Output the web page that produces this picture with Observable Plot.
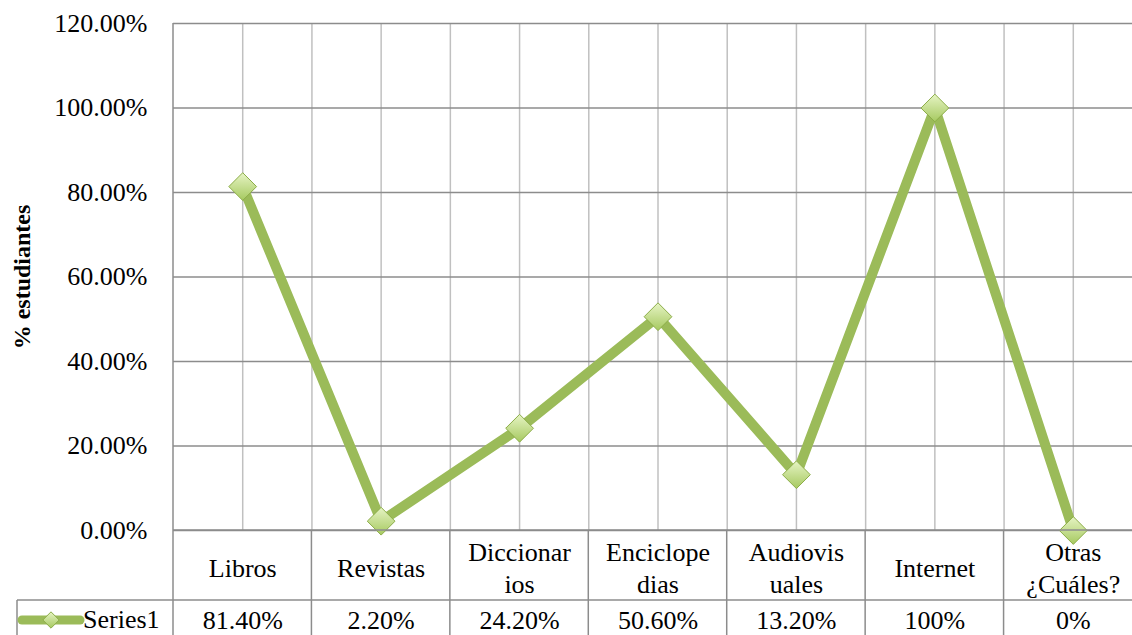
<!DOCTYPE html>
<html><head><meta charset="utf-8">
<script src="https://cdn.jsdelivr.net/npm/d3@7"></script>
<script src="https://cdn.jsdelivr.net/npm/@observablehq/plot@0.6"></script>
<style>html,body{margin:0;padding:0;overflow:hidden;background:#fff}</style>
</head><body><div id="chart"></div>
<script>
const categories = ["Libros","Revistas","Diccionarios","Enciclopedias","Audiovisuales","Internet","Otras ¿Cuáles?"];
const categoryLabels = ["Libros","Revistas","Diccionar\nios","Enciclope\ndias","Audiovis\nuales","Internet","Otras\n¿Cuáles?"];
const values = [0.814,0.022,0.242,0.506,0.132,1.0,0];
const valueLabels = ["81.40%","2.20%","24.20%","50.60%","13.20%","100%","0%"];
const yTicks = [0,0.2,0.4,0.6,0.8,1.0,1.2];
const seriesName = "Series1";
const yLabel = "% estudiantes";

const data = categories.map((c,i)=>({category:c, label:categoryLabels[i], value:values[i], valueLabel:valueLabels[i], pos:i+0.5}));
const centers = data.map(d=>d.pos);
const bounds = d3.range(1, categories.length);
const serif = "Liberation Serif";
const green = "#9bbb59";

const chart = Plot.plot({
  width:1132, height:635,
  marginTop:23, marginBottom:105, marginLeft:173, marginRight:0,
  style:{fontFamily:serif, fontSize:"26px", color:"#000", background:"#fff", overflow:"visible"},
  x:{domain:[0,categories.length], range:[173,1142], axis:null},
  y:{domain:[0,1.2], ticks:yTicks, tickFormat:d3.format(".2%")},
  marks:[
    Plot.ruleX([...centers, ...bounds], {stroke:"#c0c0c0", strokeWidth:1.5}),
    Plot.ruleY(yTicks, {stroke:"#8c8c8c", strokeWidth:1.5}),
    Plot.axisY({ticks:yTicks, tickFormat:d3.format(".2%"), tickSize:0, tickPadding:26, fontSize:26, fontFamily:serif, label:null}),
    Plot.text([yLabel], {frameAnchor:"left", textAnchor:"middle", lineAnchor:"middle", rotate:-90, dx:-151, fontFamily:serif, fontWeight:"bold", fontSize:24}),
    Plot.line(data, {x:"pos", y:"value", stroke:green, strokeWidth:10, strokeLinejoin:"round"}),
    Plot.dot(data, {x:"pos", y:"value", symbol:"diamond2", r:12.5, fill:"url(#mk)", stroke:"#8cad48", strokeWidth:1}),
    Plot.text(data, {x:"pos", text:"label", frameAnchor:"bottom", lineAnchor:"middle", dy:36, lineHeight:1.23, fontSize:26, fontFamily:serif}),
    Plot.text(data, {x:"pos", text:"valueLabel", frameAnchor:"bottom", lineAnchor:"middle", dy:90, fontSize:26, fontFamily:serif})
  ]
});
document.getElementById("chart").appendChild(chart);

const svg = d3.select(chart);
const defs = svg.insert("defs", ":first-child");
const grad = defs.append("linearGradient").attr("id","mk").attr("x1",0).attr("y1",0).attr("x2",0).attr("y2",1);
grad.append("stop").attr("offset","0%").attr("stop-color","#e6f4c4");
grad.append("stop").attr("offset","100%").attr("stop-color","#a6c960");

const sx = chart.scale("x"), sy = chart.scale("y");
const x1 = sx.apply(categories.length);
const yBase = sy.apply(0);
const yTop = sy.apply(1.2);
const rowY = yBase + 70;
const tbl = svg.append("g").attr("stroke","#8c8c8c").attr("stroke-width",1.5);
tbl.append("line").attr("x1",17).attr("x2",x1).attr("y1",rowY).attr("y2",rowY);
tbl.append("line").attr("x1",sx.apply(0)).attr("x2",x1).attr("y1",yBase).attr("y2",yBase);
for (const b of d3.range(0, categories.length + 1)) {
  tbl.append("line").attr("x1",sx.apply(b)).attr("x2",sx.apply(b)).attr("y1", b === 0 ? yTop : yBase).attr("y2",635);
}
tbl.append("line").attr("x1",17).attr("x2",17).attr("y1",rowY).attr("y2",635);

// legend key in the data table
const lg = svg.append("g");
const ly = rowY + 20;
lg.append("line").attr("x1",22).attr("x2",80).attr("y1",ly).attr("y2",ly)
  .attr("stroke",green).attr("stroke-width",9).attr("stroke-linecap","round");
lg.append("path").attr("d",d3.symbol(d3.symbolDiamond2, 170)()).attr("transform",`translate(51,${ly})`)
  .attr("fill","url(#mk)").attr("stroke","#8cad48");
lg.append("text").attr("x",83).attr("y",ly).attr("dy","0.32em").attr("font-size",26)
  .attr("text-anchor","start").attr("font-family",serif).attr("fill","#000").text(seriesName);
</script></body></html>
